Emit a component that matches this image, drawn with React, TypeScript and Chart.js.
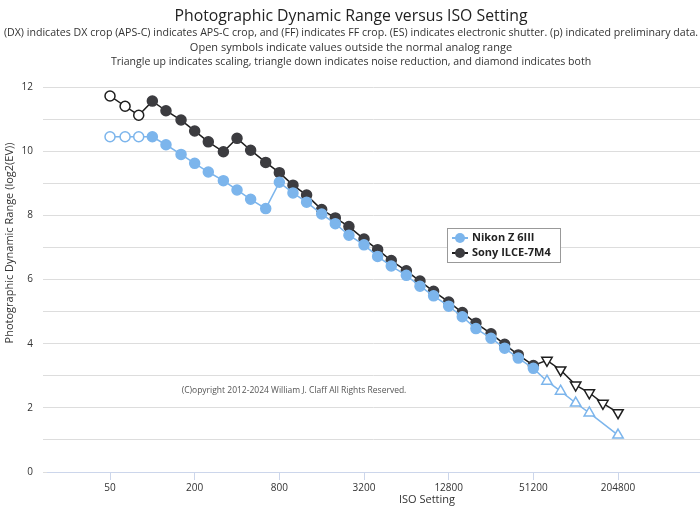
import { useEffect, useRef } from 'react';
import { Chart, registerables } from 'chart.js';
Chart.register(...registerables);

const FONT = '"Open Sans", sans-serif';

const chartTitle = 'Photographic Dynamic Range versus ISO Setting';
const subtitleLines = [
  '(DX) indicates DX crop (APS-C) indicates APS-C crop, and (FF) indicates FF crop. (ES) indicates electronic shutter. (p) indicated preliminary data.',
  'Open symbols indicate values outside the normal analog range',
  'Triangle up indicates scaling, triangle down indicates noise reduction, and diamond indicates both',
];
const xAxisTitle = 'ISO Setting';
const yAxisTitle = 'Photographic Dynamic Range (log2(EV))';
const copyrightText = '(C)opyright 2012-2024 William J. Claff All Rights Reserved.';
const seriesNames = ['Nikon Z 6III', 'Sony ILCE-7M4'];

const xTickValues = [50, 200, 800, 3200, 12800, 51200, 204800];
const xTickLabels = ['50', '200', '800', '3200', '12800', '51200', '204800'];
const xRangeIso = [17.82, 784000];

const isoValues = [
  50, 64, 80, 100, 125, 160, 200, 250, 320, 400, 500, 640, 800, 1000, 1250, 1600,
  2000, 2500, 3200, 4000, 5000, 6400, 8000, 10000, 12800, 16000, 20000, 25600,
  32000, 40000, 51200, 64000, 80000, 102400, 128000, 160000, 204800,
];

const nikonDR = [
  10.45, 10.45, 10.45, 10.45, 10.2, 9.9, 9.62, 9.35, 9.08, 8.79, 8.5, 8.21, 9.03,
  8.7, 8.41, 8.04, 7.74, 7.38, 7.08, 6.72, 6.42, 6.13, 5.79, 5.49, 5.17, 4.84,
  4.47, 4.17, 3.86, 3.55, 3.23, 2.83, 2.52, 2.15, 1.84, null, 1.15,
];

const sonyDR = [
  11.72, 11.4, 11.12, 11.56, 11.26, 10.97, 10.63, 10.29, 9.98, 10.4, 10.03, 9.65,
  9.33, 8.94, 8.63, 8.18, 7.92, 7.65, 7.26, 6.93, 6.59, 6.27, 5.95, 5.63, 5.3,
  4.97, 4.64, 4.31, 3.98, 3.65, 3.32, 3.48, 3.18, 2.71, 2.47, 2.14, 1.85,
];

// o = open circle (outside analog range), c = filled circle, u = triangle up (scaling), d = triangle down (noise reduction)
// one symbol per ISO value: 3 open, 28 filled (ISO 100 .. 51200), 6 extended (ISO 64000 .. 204800)
const nikonSymbols = ('ooo' + 'cccccccccc' + 'cccccccccc' + 'cccccccc' + 'uuuuuu').split('');
const sonySymbols = ('ooo' + 'cccccccccc' + 'cccccccccc' + 'cccccccc' + 'dddddd').split('');

const NIKON_COLOR = '#7cb5ec';
const SONY_COLOR = '#3c3c40';
const SONY_LINE = '#1e1e1e';

function makeDataset(label: string, values: (number | null)[], syms: string[], color: string, line: string) {
  return {
    label,
    data: isoValues.map((iso, i) => ({ x: Math.log2(iso), y: values[i] })),
    borderColor: line,
    borderWidth: 1.5,
    tension: 0,
    spanGaps: true,
    pointStyle: syms.map((s) => (s === 'u' || s === 'd' ? 'triangle' : 'circle')),
    pointRotation: syms.map((s) => (s === 'd' ? 180 : 0)),
    pointRadius: syms.map((s) => (s === 'u' || s === 'd' ? 6 : 5)),
    pointBackgroundColor: syms.map((s) => (s === 'c' ? color : '#ffffff')),
    pointBorderColor: syms.map((s) => (s === 'c' ? color : line)),
    pointBorderWidth: 1.5,
  };
}

const decor = {
  id: 'decor',
  beforeDraw(chart: any) {
    const { ctx, width, height } = chart;
    ctx.save();
    ctx.fillStyle = '#ffffff';
    ctx.fillRect(0, 0, width, height);
    ctx.restore();
  },
  afterDraw(chart: any) {
    const { ctx, chartArea } = chart;
    ctx.save();
    ctx.textAlign = 'center';
    ctx.textBaseline = 'middle';
    ctx.fillStyle = '#222222';
    ctx.font = `15.8px ${FONT}`;
    ctx.fillText(chartTitle, 351, 16);
    ctx.fillStyle = '#333333';
    const ys = [33, 47.5, 61.5];
    const sizes = [10.62, 11, 10.55];
    subtitleLines.forEach((t, i) => {
      ctx.font = `${sizes[i]}px ${FONT}`;
      ctx.fillText(t, 351, ys[i]);
    });

    ctx.font = `11px ${FONT}`;
    ctx.fillStyle = '#333333';
    ctx.fillText(xAxisTitle, 427, 500);

    ctx.save();
    ctx.translate(10, 243);
    ctx.rotate(-Math.PI / 2);
    ctx.fillText(yAxisTitle, 0, 0);
    ctx.restore();

    ctx.font = `8.5px ${FONT}`;
    ctx.fillStyle = '#555555';
    ctx.fillText(copyrightText, 294, 391);

    // legend
    const lx = chartArea.left + 400;
    const ly = chartArea.top + 141;
    const lw = 113;
    const lh = 34;
    ctx.fillStyle = '#ffffff';
    ctx.fillRect(lx, ly, lw, lh);
    ctx.strokeStyle = '#999999';
    ctx.lineWidth = 1;
    ctx.strokeRect(lx + 0.5, ly + 0.5, lw, lh);
    const colors = [NIKON_COLOR, SONY_COLOR];
    const lines = [NIKON_COLOR, SONY_LINE];
    seriesNames.forEach((name, i) => {
      const cy = ly + 10 + i * 15;
      ctx.strokeStyle = lines[i];
      ctx.lineWidth = 2;
      ctx.beginPath();
      ctx.moveTo(lx + 5, cy);
      ctx.lineTo(lx + 21, cy);
      ctx.stroke();
      ctx.fillStyle = colors[i];
      ctx.beginPath();
      ctx.arc(lx + 13, cy, 5, 0, Math.PI * 2);
      ctx.fill();
      ctx.fillStyle = '#222222';
      ctx.textAlign = 'left';
      ctx.font = `bold 11px ${FONT}`;
      ctx.fillText(name, lx + 25, cy);
    });
    ctx.restore();
  },
};

export default function App() {
  const ref = useRef<HTMLCanvasElement>(null);
  useEffect(() => {
    document.body.style.margin = '0';
    const chart = new Chart(ref.current as HTMLCanvasElement, {
      type: 'line',
      data: {
        datasets: [
          makeDataset(seriesNames[0], nikonDR, nikonSymbols, NIKON_COLOR, NIKON_COLOR),
          makeDataset(seriesNames[1], sonyDR, sonySymbols, SONY_COLOR, SONY_LINE),
        ] as any,
      },
      options: {
        animation: false,
        responsive: false,
        layout: { autoPadding: false, padding: { top: 87, left: 0, right: 0, bottom: 0 } },
        plugins: {
          legend: { display: false },
          tooltip: { enabled: false },
          title: { display: false },
        },
        scales: {
          x: {
            type: 'linear',
            min: Math.log2(xRangeIso[0]),
            max: Math.log2(xRangeIso[1]),
            afterBuildTicks: (s: any) => {
              s.ticks = xTickValues.map((v) => ({ value: Math.log2(v) }));
            },
            afterFit: (s: any) => {
              s.height = 36;
            },
            ticks: {
              autoSkip: false,
              maxRotation: 0,
              padding: 2,
              color: '#333333',
              font: { size: 10, family: FONT },
              callback: (_v: any, i: number) => xTickLabels[i],
            },
            grid: { drawOnChartArea: false, drawTicks: true, tickLength: 8, color: '#ccd6eb' },
            border: { display: true, color: '#ccd6eb' },
          },
          y: {
            min: 0,
            max: 12,
            afterFit: (s: any) => {
              s.width = 47;
            },
            ticks: {
              stepSize: 1,
              padding: 10,
              color: '#333333',
              font: { size: 10, family: FONT },
              callback: (v: any) => (Number(v) % 2 === 0 ? String(v) : ''),
            },
            grid: { color: '#dddddd', tickLength: 4 },
            border: { display: false },
          },
        },
      } as any,
      plugins: [decor],
    });
    return () => chart.destroy();
  }, []);
  return (
    <div style={{ position: 'fixed', left: 0, top: 0, width: 700, height: 508, background: '#fff' }}>
      <canvas ref={ref} width={700} height={508} style={{ width: 700, height: 508 }} />
    </div>
  );
}
